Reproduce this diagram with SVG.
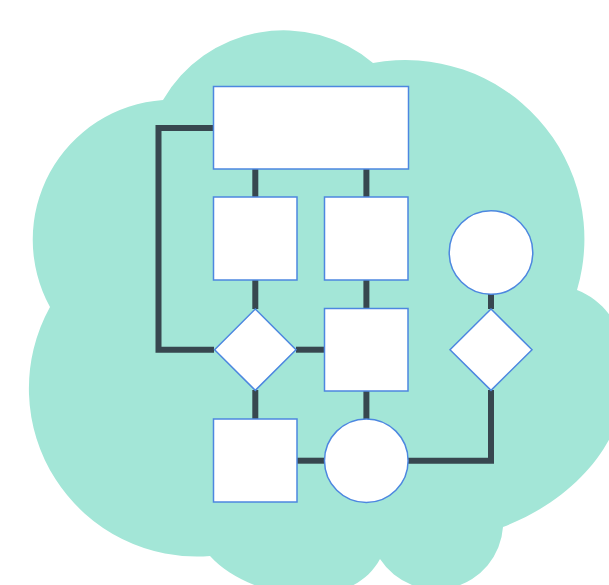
<svg xmlns="http://www.w3.org/2000/svg" width="609" height="585" viewBox="0 0 609 585">
  <style>
    .cloud { fill: #a3e6d7; }
    .node { fill: #ffffff; stroke: #4d87e0; stroke-width: 1.5; }
    .link { fill: none; stroke: #37474f; stroke-width: 6; stroke-linejoin: miter; stroke-linecap: butt; }
  </style>
  <rect width="609" height="585" fill="#ffffff"/>

  <!-- cloud backdrop built from bulging arcs -->
  <path class="cloud" d="M163,100
    A139,139 0 0 1 373,63
    A179,179 0 0 1 577,290
    C655,320 650,470 503,527
    A67,67 0 0 1 380,559
    C350,615 250,600 210,556
    A168,168 0 0 1 50,307
    A140,140 0 0 1 163,100 Z"/>

  <!-- connectors -->
  <g id="connectors">
    <polyline class="link" points="214,128 158.5,128 158.5,349.7 214,349.7"/>
    <line class="link" x1="255.3" y1="169" x2="255.3" y2="197"/>
    <line class="link" x1="366.4" y1="169" x2="366.4" y2="197"/>
    <line class="link" x1="255.3" y1="280" x2="255.3" y2="309"/>
    <line class="link" x1="366.4" y1="280" x2="366.4" y2="308.5"/>
    <line class="link" x1="296" y1="349.7" x2="324.5" y2="349.7"/>
    <line class="link" x1="255.3" y1="390" x2="255.3" y2="419"/>
    <line class="link" x1="366.4" y1="391" x2="366.4" y2="419"/>
    <line class="link" x1="297" y1="460.7" x2="324.5" y2="460.7"/>
    <polyline class="link" points="408,460.7 491,460.7 491,390"/>
    <line class="link" x1="491" y1="294" x2="491" y2="309"/>
  </g>

  <!-- nodes -->
  <g id="start"><rect class="node" x="213.5" y="86.5" width="195" height="82.5"/></g>
  <g id="step-a"><rect class="node" x="213.5" y="197" width="83.5" height="83"/></g>
  <g id="step-b"><rect class="node" x="324.5" y="197" width="83.5" height="83"/></g>
  <g id="terminal-top"><circle class="node" cx="491" cy="252.5" r="41.8"/></g>
  <g id="decision-left"><polygon class="node" points="255.3,309 296,349.7 255.3,390.4 214.6,349.7"/></g>
  <g id="step-c"><rect class="node" x="324.5" y="308.5" width="83.5" height="82.5"/></g>
  <g id="decision-right"><polygon class="node" points="491,309 532,349.7 491,390.4 450,349.7"/></g>
  <g id="step-d"><rect class="node" x="213.5" y="419" width="83.5" height="83"/></g>
  <g id="terminal-bottom"><circle class="node" cx="366.3" cy="460.7" r="41.8"/></g>
</svg>
